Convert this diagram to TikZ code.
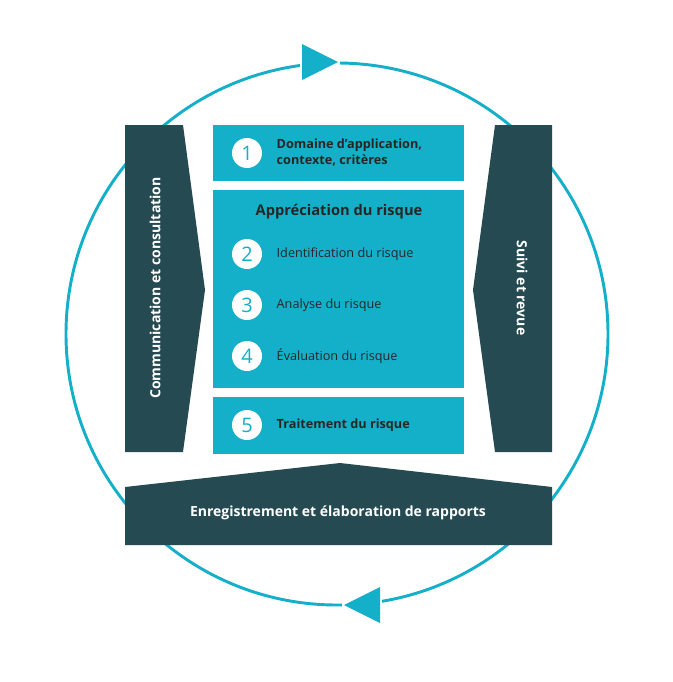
\documentclass[tikz,border=0pt]{standalone}
\usepackage{fontspec}
\setmainfont{Open Sans}
\usetikzlibrary{calc}
\definecolor{cy}{HTML}{14AFC9}
\definecolor{dk}{HTML}{264A52}
\begin{document}
\begin{tikzpicture}[x=0.75pt,y=-0.75pt,
  cbox/.style={fill=cy},
  num/.style={circle,fill=white,minimum size=22.5pt,inner sep=0pt,text=cy,font=\fontsize{15}{15}\selectfont},
  lbl/.style={anchor=west,font=\fontsize{9.5}{12}\selectfont,text=black!85},
  blbl/.style={anchor=west,font=\fontsize{9.5}{12}\selectfont\bfseries,text=black!85,align=left},
  wlbl/.style={text=white,font=\fontsize{10.5}{12}\selectfont\bfseries}]
\useasboundingbox (0,0) rectangle (673,682);
\coordinate (c) at (337,334);
\draw[cy,line width=2.2pt] (c) circle[radius=271*0.75pt];
\fill[white] (300,50) rectangle (340,74);
\fill[white] (342,594) rectangle (382,618);
\fill[cy] (302,44) -- (338,62) -- (302,80) -- cycle;
\fill[cy] (380,587) -- (344,605) -- (380,623) -- cycle;
% dark shapes
\fill[dk] (125,125) -- (183,125) -- (205,290) -- (183,452) -- (125,452) -- cycle;
\fill[dk] (552,125) -- (495,125) -- (473,290) -- (495,452) -- (552,452) -- cycle;
\fill[dk] (125,487) -- (340,463) -- (552,487) -- (552,545) -- (125,545) -- cycle;
\node[wlbl,rotate=90] (cc) at (155,288) {Communication et consultation};
\node[wlbl,rotate=-90] (sr) at (522,288) {Suivi et revue};
\node[wlbl] (er) at (338,513) {Enregistrement et élaboration de rapports};
% cyan boxes
\fill[cy] (213,125) rectangle (464,181);
\fill[cy] (213,190) rectangle (464,388);
\fill[cy] (213,397) rectangle (464,454);
\node[num] (n1) at (247,153) {1};
\node[blbl] (t1) at (272,153) {Domaine d’application,\\contexte, critères};
\node[font=\fontsize{11}{12}\selectfont\bfseries,text=black!85] (ap) at (339,212) {Appréciation du risque};
\node[num] (n2) at (247,254) {2};
\node[lbl] (t2) at (272,254) {Identification du risque};
\node[num] (n3) at (247,305) {3};
\node[lbl] (t3) at (272,305) {Analyse du risque};
\node[num] (n4) at (247,356) {4};
\node[lbl] (t4) at (272,356) {Évaluation du risque};
\node[num] (n5) at (247,425) {5};
\node[blbl] (t5) at (272,425) {Traitement du risque};
\end{tikzpicture}
\end{document}
